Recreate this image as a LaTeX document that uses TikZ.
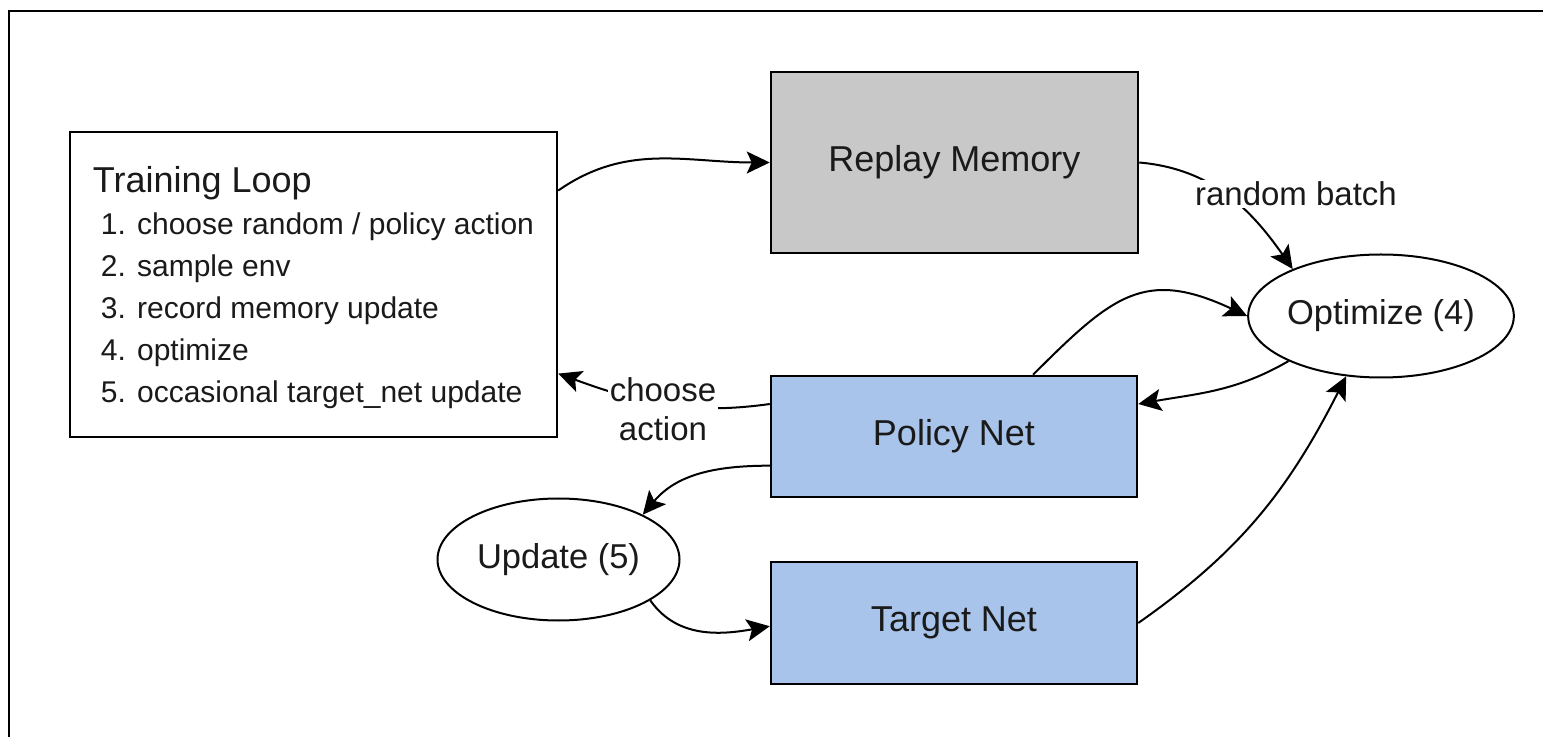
\documentclass[tikz,border=0pt]{standalone}
\usepackage{fontspec}
\setmainfont{Liberation Sans}
\usetikzlibrary{arrows.meta,shapes.geometric}
\definecolor{memgray}{HTML}{C8C8C8}
\definecolor{netblue}{HTML}{A9C4EB}
\definecolor{ink}{HTML}{1A1A1A}
\begin{document}
\begin{tikzpicture}[x=1pt,y=1pt,
  box/.style={draw=black, line width=2.5pt, rectangle, inner sep=0pt, text=ink, font=\fontsize{36}{43}\selectfont},
  oval/.style={draw=black, line width=2pt, ellipse, inner sep=0pt, minimum width=244pt, minimum height=123pt, text=ink, font=\fontsize{34.5}{41}\selectfont},
  edge/.style={line width=2pt, -{Stealth[length=23pt,width=22pt,inset=5pt]}},
  elabel/.style={font=\fontsize{33}{39}\selectfont, text=ink, fill=white, inner sep=2pt, align=center}]
\useasboundingbox (0,0) rectangle (1543,737);
\draw[line width=2.5pt] (9,0) -- (9,726) -- (1543,726);

\node[box, minimum width=487pt, minimum height=305pt, align=left, font=\fontsize{30}{42}\selectfont] (train) at (313.5,452.5)
  {{\fontsize{36}{41}\selectfont\rule{0pt}{32pt}Training Loop}\\
   \hspace*{8pt}1. choose random / policy action\\
   \hspace*{8pt}2. sample env\\
   \hspace*{8pt}3. record memory update\\
   \hspace*{8pt}4. optimize\\
   \hspace*{8pt}5. occasional target\_net update};
\node[box, fill=memgray, minimum width=367pt, minimum height=181pt] (replay) at (954.5,574.5) {Replay Memory};
\node[box, fill=netblue, minimum width=366pt, minimum height=121pt] (policy) at (954,300.5) {Policy Net};
\node[box, fill=netblue, minimum width=366pt, minimum height=122pt] (target) at (954,114) {Target Net};
\node[oval] (optimize) at (1381,421) {Optimize (4)};
\node[oval, minimum width=242pt, minimum height=122pt] (update) at (558.5,177.5) {Update (5)};

\draw[edge] (train.21) to[out=35,in=180] (replay.west);
\draw[edge] (replay.east) to[out=-5,in=125] (optimize.152);
\draw[edge] (policy.38.5) to[out=45,in=155,looseness=1.3] (optimize.west);
\draw[edge] (optimize.206) to[out=210,in=10] (policy.10.4);
\draw[edge] (target.east) to[out=35,in=243] (optimize.240);
\draw[edge] (policy.170.8) to[out=188,in=-20] (train.340);
\draw[edge] (policy.189.2) to[out=180,in=50] (update.28);
\draw[edge] (update.336) to[out=-55,in=190] (target.181);

\node[elabel] (rb) at (1296,543) {random batch};
\node[elabel] (ca) at (663,327.5) {choose\\action};
\end{tikzpicture}
\end{document}
